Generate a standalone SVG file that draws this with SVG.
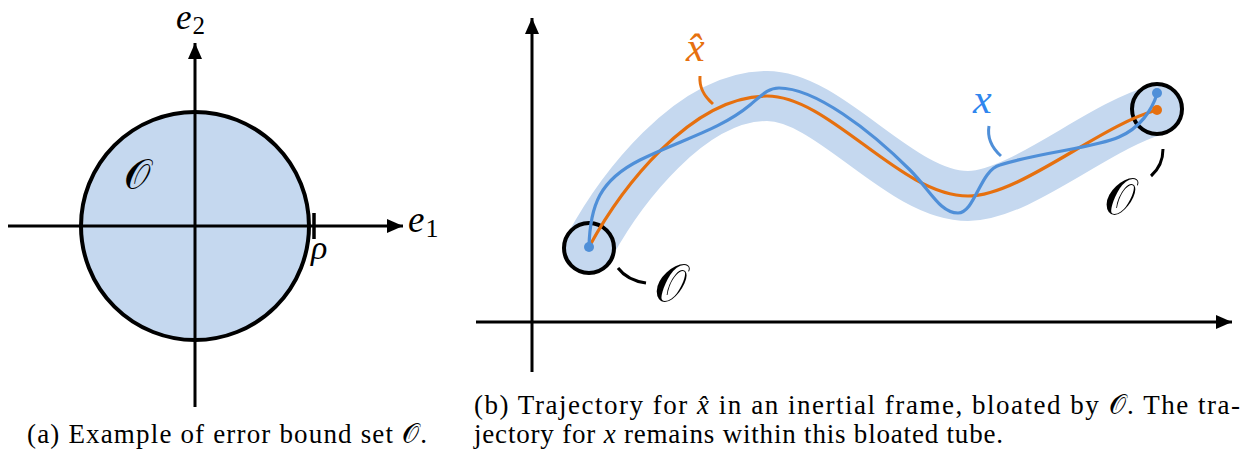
<svg xmlns="http://www.w3.org/2000/svg" width="1260" height="459" viewBox="0 0 1260 459">
<style>
.ax{stroke:#000;stroke-width:3;fill:none}
.tube{fill:none;stroke:#c5d8ef;stroke-width:50;stroke-linecap:round;stroke-linejoin:round}
.orange{fill:none;stroke:#e6700f;stroke-width:3.2;stroke-linecap:round}
.blue{fill:none;stroke:#4f8fd8;stroke-width:3.2;stroke-linecap:round}
.ring{fill:#c5d8ef;stroke:#000;stroke-width:4}
.lead{fill:none;stroke-width:3;stroke-linecap:butt}
</style>
<defs>
<marker id="ah" markerUnits="userSpaceOnUse" markerWidth="18" markerHeight="14" refX="16" refY="7" orient="auto">
<path d="M0,0 L16,7 L0,14 z" fill="#000"/>
</marker>
</defs>
<rect width="1260" height="459" fill="#fff"/>

<g id="panel-a">
<g id="set-O-circle">
<circle class="ring" cx="195" cy="226" r="114"/>
</g>
<g id="axes-a">
<line class="ax" x1="8" y1="226" x2="403" y2="226" marker-end="url(#ah)"/>
<line class="ax" x1="195" y1="407" x2="195" y2="43" marker-end="url(#ah)"/>
<line x1="314" y1="213" x2="314" y2="239" stroke="#000" stroke-width="3.5"/>
</g>
<g id="labels-a" font-family="'Liberation Serif', 'Times New Roman', serif" fill="#000">
<text x="176" y="29" font-size="35" font-style="italic">e<tspan font-style="normal" font-size="25" dx="1" dy="5">2</tspan></text>
<text x="408" y="232" font-size="37" font-style="italic">e<tspan font-style="normal" font-size="26" dx="1" dy="5">1</tspan></text>
<text x="311" y="259" font-size="34" font-style="italic">ρ</text>
<text x="124" y="189" font-size="42" font-family="'DejaVu Serif', serif">𝒪</text>
</g>
<text x="27" y="443" font-family="'Liberation Serif', 'Times New Roman', serif" font-size="27" fill="#000" textLength="400" lengthAdjust="spacing">(a) Example of error bound set <tspan font-family="'DejaVu Serif', serif">𝒪</tspan>.</text>
</g>

<g id="panel-b">
<g id="axes-b">
<line class="ax" x1="532" y1="372" x2="532" y2="18" marker-end="url(#ah)"/>
<line class="ax" x1="476" y1="322" x2="1232" y2="322" marker-end="url(#ah)"/>
</g>
<g id="tube">
<path class="tube" d="M589,247 C620,190 690,96 767,96 C830,96 900,196 968,196 C1020,196 1100,125 1157,110"/>
</g>
<g id="start-set">
<circle class="ring" cx="589" cy="248" r="25"/>
</g>
<g id="end-set">
<circle class="ring" cx="1157" cy="109" r="25"/>
</g>
<g id="connectors">
<path id="xhat-traj" class="orange" d="M589,247 C620,190 690,96 767,96 C830,96 900,196 968,196 C1020,196 1100,125 1157,110"/>
<path id="x-traj" class="blue" d="M589,247 C590,205 600,180 640,160 C680,140 720,130 750,105 C762,95 768,88 779,88 C815,88 870,130 910,170 C930,190 940,213 958,213 C975,213 980,170 1000,165 C1040,152 1095,148 1119,137 C1140,128 1152,110 1157,94"/>
<path class="lead" stroke="#e6700f" d="M700,76 C699,88 704,96 713,104"/>
<path class="lead" stroke="#4f8fd8" d="M989,126 C987,138 992,148 1001,156"/>
<path class="lead" stroke="#000" d="M618,268 C624,276 632,281 646,283"/>
<path class="lead" stroke="#000" d="M1163,149 C1163,160 1159,169 1151,176"/>
</g>
<g id="endpoints">
<circle cx="589" cy="247" r="5" fill="#4f8fd8"/>
<circle cx="1157" cy="110" r="5" fill="#e6700f"/>
<circle cx="1157" cy="93" r="5" fill="#4f8fd8"/>
</g>
<g id="labels-b" font-family="'Liberation Serif', 'Times New Roman', serif">
<text x="686" y="61" font-size="42" font-style="italic" fill="#e6700f">x̂</text>
<text x="973" y="113" font-size="42" font-style="italic" fill="#2f86ee">x</text>
<text x="654" y="301" font-size="52" font-family="'DejaVu Serif', serif" fill="#000">𝒪</text>
<text x="1104" y="214" font-size="50" font-family="'DejaVu Serif', serif" fill="#000">𝒪</text>
</g>
<g id="caption-b" font-family="'Liberation Serif', 'Times New Roman', serif" font-size="27" fill="#000">
<text x="474" y="414" textLength="766" lengthAdjust="spacing">(b) Trajectory for <tspan font-style="italic">x̂</tspan> in an inertial frame, bloated by <tspan font-family="'DejaVu Serif', serif">𝒪</tspan>. The tra-</text>
<text x="474" y="443" textLength="529" lengthAdjust="spacing">jectory for <tspan font-style="italic">x</tspan> remains within this bloated tube.</text>
</g>
</g>
</svg>
